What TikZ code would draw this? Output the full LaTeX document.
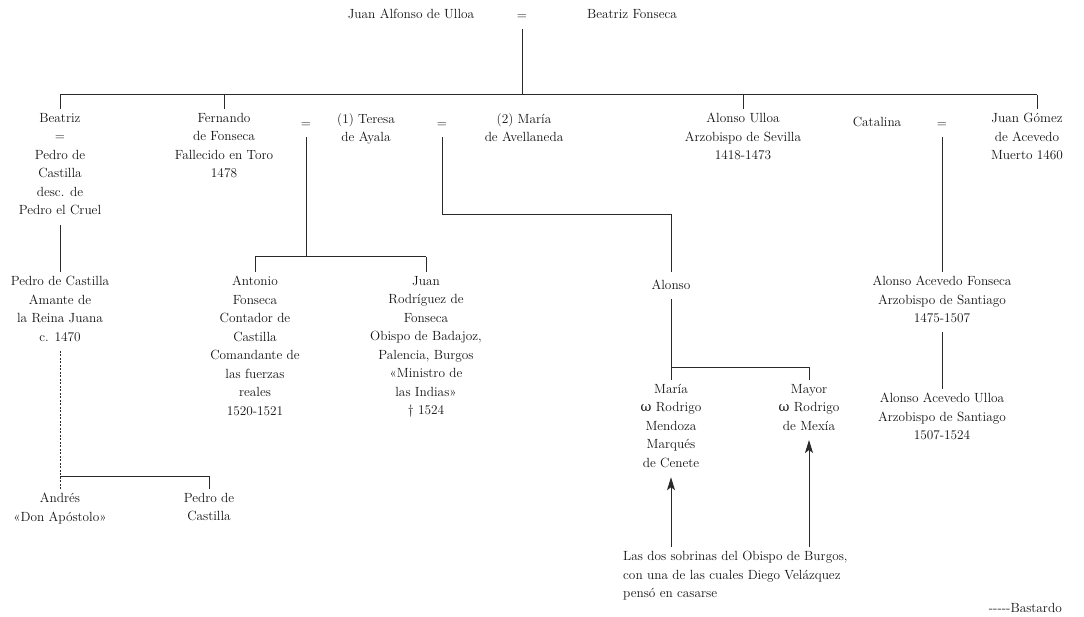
\documentclass[tikz,border=0pt]{standalone}
\usepackage{fontspec}
\usetikzlibrary{arrows.meta}
\newfontfamily\symfont{DejaVu Serif}
\definecolor{ink}{HTML}{111111}
\definecolor{rule}{HTML}{2A2A2A}
\begin{document}
\begin{tikzpicture}[x=1pt, y=-1pt,
  person/.style={align=center, anchor=north, inner xsep=2pt, inner ysep=4pt,
    text=ink, font=\fontsize{13.3}{18.5}\selectfont,
    execute at begin node=\strut, execute at end node=\strut},
  note/.style={person, align=left, anchor=north west},
  link/.style={draw=rule, line width=1pt},
  bastard/.style={link, dash pattern=on 2pt off 1.5pt},
  pointer/.style={link, -{Stealth[length=13pt, width=8pt, inset=3pt]}}]
\useasboundingbox (0,0) rectangle (1084,617);

% founders
\node[person] (juan)     at (411,1)   {Juan Alfonso de Ulloa};
\node[person] (eq0)      at (522,2)   {=};
\node[person] (beatrizF) at (632,1)   {Beatriz Fonseca};

% first generation
\node[person] (beatriz)  at (60,109)  {Beatriz\\=\\Pedro de\\Castilla\\desc. de\\Pedro el Cruel};
\node[person] (fernando) at (224,109) {Fernando\\de Fonseca\\Fallecido en Toro\\1478};
\node[person] (eq1)      at (306,110) {=};
\node[person] (teresa)   at (366,109) {(1) Teresa\\de Ayala};
\node[person] (eq2)      at (442,110) {=};
\node[person] (mariaA)   at (524,109) {(2) María\\de Avellaneda};
\node[person] (alonsoU)  at (743,109) {Alonso Ulloa\\Arzobispo de Sevilla\\1418-1473};
\node[person] (catalina) at (877,109) {Catalina};
\node[person] (eq3)      at (942,110) {=};
\node[person] (juanG)    at (1027,109) {Juan Gómez\\de Acevedo\\Muerto 1460};

% second generation
\node[person] (pedroC)   at (60,272)  {Pedro de Castilla\\Amante de\\la Reina Juana\\c. 1470};
\node[person] (antonio)  at (255,272) {Antonio\\Fonseca\\Contador de\\Castilla\\Comandante de\\las fuerzas\\reales\\1520-1521};
\node[person] (juanR)    at (426,272) {Juan\\Rodríguez de\\Fonseca\\Obispo de Badajoz,\\Palencia, Burgos\\«Ministro de\\las Indias»\\\textdagger\ 1524};
\node[person] (alonso)   at (671,272) {Alonso};
\node[person] (alonsoAF) at (942,272) {Alonso Acevedo Fonseca\\Arzobispo de Santiago\\1475-1507};

% third generation
\node[person] (mariaM)   at (671,380) {María\\{\symfont ω} Rodrigo\\Mendoza\\Marqués\\de Cenete};
\node[person] (mayor)    at (809,380) {Mayor\\{\symfont ω} Rodrigo\\de Mexía};
\node[person] (alonsoAU) at (942,389) {Alonso Acevedo Ulloa\\Arzobispo de Santiago\\1507-1524};
\node[person] (andres)   at (60,489)  {Andrés\\«Don Apóstolo»};
\node[person] (pedroC2)  at (209,489) {Pedro de\\Castilla};

% annotations
\node[note] (nota) at (621,547) {Las dos sobrinas del Obispo de Burgos,\\con una de las cuales Diego Velázquez\\pensó en casarse};
\node[person, anchor=base east, execute at begin node={}, execute at end node={}] (leyenda) at (1064,612) {-{}-{}-{}-{}-Bastardo};

% junction points
\coordinate (bar0) at (0,95);
\coordinate (barF) at (0,257);
\coordinate (barM) at (0,215);
\coordinate (barA) at (0,368);
\coordinate (barP) at (0,476);
\coordinate (dropG) at (1037,95);

% founders to their children
\draw[link, line width=0.6pt] (eq0.south) -- (eq0.south |- bar0);
\draw[link] (beatriz.north |- bar0) -- (dropG);
\draw[link] (beatriz.north |- bar0) -- (beatriz.north);
\draw[link] (fernando.north |- bar0) -- (fernando.north);
\draw[link] (alonsoU.north |- bar0) -- (alonsoU.north);
\draw[link] (dropG) -- (dropG |- juanG.north);

% Fernando and Teresa
\draw[link] (eq1.south) -- (eq1.south |- barF);
\draw[link] (antonio.north |- barF) -- (juanR.north |- barF);
\draw[link] (antonio.north |- barF) -- (antonio.north);
\draw[link] (juanR.north |- barF) -- (juanR.north);

% Fernando and María
\draw[link] (eq2.south) -- (eq2.south |- barM) -| (alonso.north);
\draw[link] (alonso.south) -- (mariaM.north);
\draw[link] (alonso.south |- barA) -| (mayor.north);

% Catalina and Juan Gómez
\draw[link] (eq3.south) -- (alonsoAF.north);
\draw[link] (alonsoAF.south) -- (alonsoAU.north);

% Beatriz line
\draw[link] (beatriz.south) -- (pedroC.north);
\draw[bastard] (pedroC.south) -- (andres.north);
\draw[link] (andres.north |- barP) -| (pedroC2.north);

% the two nieces
\draw[pointer] (nota.north -| mariaM.south) -- (mariaM.south);
\draw[pointer] (nota.north -| mayor.south) -- (mayor.south);
\end{tikzpicture}
\end{document}
